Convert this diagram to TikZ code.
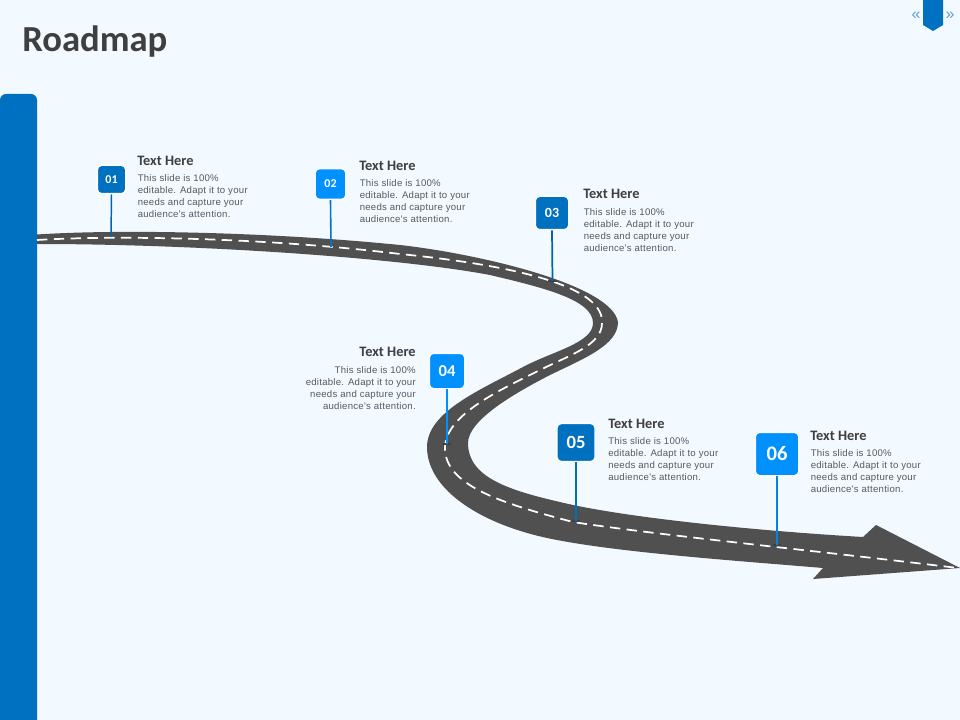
\documentclass[tikz,border=0pt]{standalone}
\usepackage{fontspec}
\usetikzlibrary{shapes.geometric}
\setmainfont{Liberation Sans}
\newfontfamily\headfont{Carlito}
\newfontfamily\bodyfont[LetterSpace=2.7]{Liberation Sans}
\definecolor{bgc}{HTML}{F2F9FF}
\definecolor{darkb}{HTML}{0070C0}
\definecolor{lightb}{HTML}{0091FF}
\definecolor{roadc}{HTML}{505050}
\definecolor{headc}{HTML}{3F3F3F}
\definecolor{bodyc}{HTML}{595959}
\definecolor{arrc}{HTML}{5B9BD5}
\tikzset{
  x=0.75pt,y=-0.75pt,
  badge/.style={rounded corners=3.2pt,draw=white,line width=1pt,text=white,inner sep=0pt},
  stem/.style={line width=#1},
  heading/.style={anchor=west,inner sep=0pt,text=headc,font=\headfont\bfseries\fontsize{10.8}{12}\selectfont},
  bodyl/.style={anchor=north west,inner sep=0pt,text=bodyc,align=left,font=\bodyfont\fontsize{7.2}{9}\selectfont},
  bodyr/.style={anchor=north east,inner sep=0pt,text=bodyc,align=right,font=\bodyfont\fontsize{7.2}{9}\selectfont},
  pinfoot/.style={fill=black!75,draw=none,ellipse,minimum width=7pt,minimum height=1.6pt,inner sep=0pt},
}
\begin{document}
\begin{tikzpicture}
\useasboundingbox (0,0) rectangle (960,720);
\fill[bgc] (0,0) rectangle (960,720);
% left bar
\fill[darkb,rounded corners=4.5pt] (0,730) -- (0,94) -- (37,94) -- (37,730) -- cycle;
\fill[bgc] (0,720) rectangle (37,735);
% tab
\fill[darkb] (923,0) -- (943,0) -- (943,25) -- (933,31) -- (923,25) -- cycle;
\node[inner sep=0pt,text=arrc,font=\fontsize{12}{14}\selectfont] (arrl) at (916,15.5) {«};
\node[inner sep=0pt,text=arrc,font=\fontsize{12}{14}\selectfont] (arrr) at (950,15.5) {»};
% title
\node[anchor=west,inner sep=0pt,text=headc,font=\headfont\bfseries\fontsize{27.5}{30}\selectfont] (title) at (22,42) {Roadmap};
% road
\fill[roadc]
  (37,234.5) .. controls (120,229) and (270,232) .. (400,245)
  .. controls (480,254) and (612,285) .. (618,322)
  .. controls (618,345) and (585,358) .. (550,375)
  .. controls (515,393) and (468,420) .. (468,443)
  .. controls (468,480) and (515,492) .. (573,505)
  .. controls (640,519) and (760,531) .. (863,537)
  -- (876,525) -- (960,568) -- (813,579) -- (823,568)
  .. controls (740,561) and (625,553) .. (557,540)
  .. controls (482,526) and (427,490) .. (427,447)
  .. controls (427,412) and (480,390) .. (523,367)
  .. controls (553,351) and (593,343) .. (593,323)
  .. controls (593,300) and (545,288) .. (490,275)
  .. controls (400,258) and (200,244) .. (37,244)
  -- cycle;
% centre line
\draw[white,line width=1.3pt,dash pattern=on 7.8pt off 4.8pt]
  (37,240) .. controls (120,235) and (270,238) .. (400,254)
  .. controls (480,262) and (605,280) .. (602,323)
  .. controls (602,345) and (570,355) .. (540,370)
  .. controls (500,390) and (445,415) .. (445,448)
  .. controls (445,485) and (500,503) .. (573,522)
  .. controls (650,534) and (800,549) .. (958,568);
% pin feet
\coordinate (f1) at (111,237);
\coordinate (f2) at (331,247);
\coordinate (f3) at (552.5,281);
\coordinate (f4) at (447,444);
\coordinate (f5) at (576,521);
\coordinate (f6) at (777,545);
\node[pinfoot] at (f3) {};
\node[pinfoot] at (f4) {};
\node[pinfoot] at (f5) {};
\node[pinfoot] at (f6) {};
% badges
\node[badge,fill=darkb,minimum size=21.25pt,font=\headfont\bfseries\fontsize{9}{10}\selectfont] (b1) at (111.5,179.5) {01};
\node[badge,fill=lightb,minimum size=23pt,font=\headfont\bfseries\fontsize{9}{10}\selectfont] (b2) at (330.5,184) {02};
\node[badge,fill=darkb,minimum size=25pt,font=\headfont\bfseries\fontsize{10.5}{12}\selectfont] (b3) at (552,213) {03};
\node[badge,fill=lightb,minimum size=26.5pt,font=\headfont\bfseries\fontsize{12.5}{14}\selectfont] (b4) at (447,371) {04};
\node[badge,fill=darkb,minimum size=28.5pt,font=\headfont\bfseries\fontsize{14}{16}\selectfont] (b5) at (576,442.5) {05};
\node[badge,fill=lightb,minimum size=32.5pt,font=\headfont\bfseries\fontsize{15.5}{18}\selectfont] (b6) at (777,454) {06};
% stems
\draw[darkb!90!black,stem=1.1pt] (b1.south) -- (f1);
\draw[lightb!80!black,stem=1.2pt] (b2.south) -- (f2);
\draw[darkb!90!black,stem=1.3pt] (b3.south) -- (f3);
\draw[lightb,stem=1.6pt] (b4.south) -- (f4);
\draw[darkb,stem=1.7pt] (b5.south) -- (f5);
\draw[lightb!90!black,stem=2pt] (b6.south) -- (f6);
% texts
\node[heading] (h1) at (137,161) {Text Here};
\node[bodyl] (t1) at (137.5,174) {This slide is 100\%\\editable. Adapt it to your\\needs and capture your\\audience's attention.};
\node[heading] (h2) at (359,166) {Text Here};
\node[bodyl] (t2) at (359.5,179) {This slide is 100\%\\editable. Adapt it to your\\needs and capture your\\audience's attention.};
\node[heading] (h3) at (583,194) {Text Here};
\node[bodyl] (t3) at (583.5,208) {This slide is 100\%\\editable. Adapt it to your\\needs and capture your\\audience's attention.};
\node[heading,anchor=east] (h4) at (416,352) {Text Here};
\node[bodyr] (t4) at (416,366) {This slide is 100\%\\editable. Adapt it to your\\needs and capture your\\audience's attention.};
\node[heading] (h5) at (608,424) {Text Here};
\node[bodyl] (t5) at (608,437) {This slide is 100\%\\editable. Adapt it to your\\needs and capture your\\audience's attention.};
\node[heading] (h6) at (810,436) {Text Here};
\node[bodyl] (t6) at (810.5,449) {This slide is 100\%\\editable. Adapt it to your\\needs and capture your\\audience's attention.};
\end{tikzpicture}
\end{document}
